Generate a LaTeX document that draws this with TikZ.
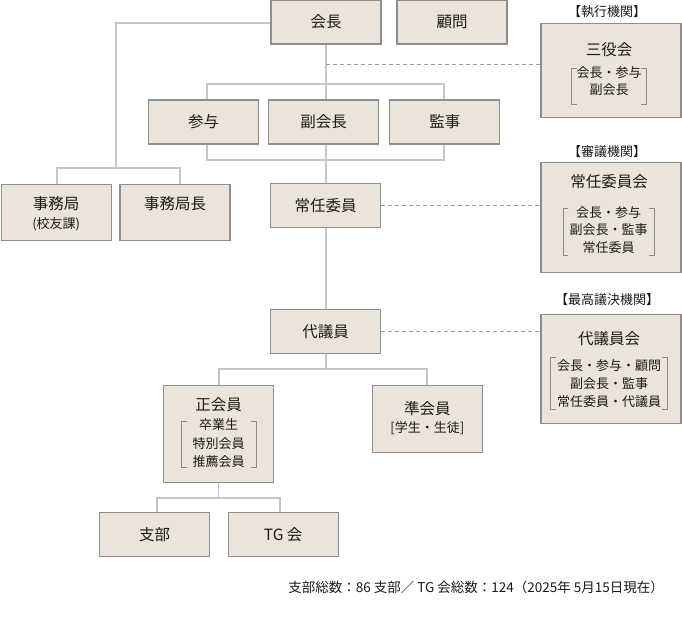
\documentclass[tikz,border=0pt]{standalone}
\usepackage{fontspec}
\setmainfont{Noto Sans CJK JP}
\definecolor{boxfill}{HTML}{EBE4DA}
\definecolor{boxline}{HTML}{8E8E8E}
\definecolor{connline}{HTML}{C6C6C6}
\definecolor{dashline}{HTML}{9E9E9E}
\definecolor{brkline}{HTML}{8A8A8A}
\definecolor{txt}{HTML}{1A1A1A}
\begin{document}
\begin{tikzpicture}[x=1pt,y=-1pt,
  box/.style={draw=boxline,fill=boxfill,line width=1.2pt,minimum width=110pt,minimum height=44pt,inner sep=0pt,font=\fontsize{15.5}{17}\selectfont,text=txt},
  big/.style={font=\fontsize{15.5}{17}\selectfont,text=txt,inner sep=0pt},
  small/.style={font=\fontsize{13}{15}\selectfont,text=txt,inner sep=0pt},
  conn/.style={draw=connline,line width=1.8pt},
  dotline/.style={draw=dashline,line width=0.8pt,dash pattern=on 4pt off 3pt},
  brk/.style={draw=brkline,line width=0.8pt}
]
\useasboundingbox (0,0) rectangle (682,617);

% ---- coordinates for connectors
\coordinate (ka) at (444,84.3);
\coordinate (kb) at (444,160);
\coordinate (lc) at (115.7,167.7);
\coordinate (jb) at (180.3,167.7);
\coordinate (db) at (427.3,369.3);
\coordinate (sb2) at (280,498.3);
\coordinate (d1) at (326,64.3);

% ---- connectors (drawn first)
\draw[conn] (326,44) -- (326,310);
\draw[conn] (206.7,100) |- (ka) -- (444,100);
\draw[conn] (206.7,144) |- (kb) -- (444,144);
\draw[conn] (271,22.7) -| (lc);
\draw[conn] (56.7,184.3) |- (jb) -- (180.3,184.3);
\draw[conn] (326,353) -- (326,369.3);
\draw[conn] (219,385.3) |- (db) -- (427.3,385.3);
\draw[conn] (218.5,482.7) -- (218.5,498.3);
\draw[conn] (156.7,512) |- (sb2) -- (280,512);

% ---- central boxes
\node[box] (kaicho) at (326,22) {会長};
\node[box] (komon) at (452,22) {顧問};
\node[box] (sanyo) at (203.7,122) {参与};
\node[box] (fuku) at (323.7,122) {副会長};
\node[box] (kanji) at (444.8,122) {監事};
\node[box,minimum height=56pt] (jimu) at (56.2,212.5) {};
\node[big] (jimuA) at (56.2,204) {事務局};
\node[small] (jimuB) at (56.2,224.5) {(校友課)};
\node[box,minimum height=56pt] (jimucho) at (175,212.5) {};
\node[big] (jimuchoA) at (175,204) {事務局長};
\node[box] (jonin) at (325.7,205.5) {常任委員};
\node[box] (daigi) at (325.5,331.2) {代議員};

\node[box,minimum height=97pt] (sei) at (218.5,434) {};
\node[big] (seiA) at (218.5,405) {正会員};
\node[small] (seiB) at (218.5,425) {卒業生};
\node[small] (seiC) at (218.5,443.3) {特別会員};
\node[small] (seiD) at (218.5,461.7) {推薦会員};
\draw[brk] (186.7,421.7) -- (181.7,421.7) -- (181.7,467.3) -- (186.7,467.3);
\draw[brk] (251,421.7) -- (256,421.7) -- (256,467.3) -- (251,467.3);

\node[box,minimum height=67pt] (jun) at (427.3,418.8) {};
\node[big] (junA) at (427.3,408.3) {準会員};
\node[small] (junB) at (427.3,427.7) {[学生・生徒]};

\node[box] (shibu) at (154.7,534.3) {支部};
\node[box] (tg) at (283.2,534.3) {TG 会};

% ---- right side boxes
\node[small] (lbl1) at (607,12) {【執行機関】};
\node[box,minimum width=140pt,minimum height=94pt] (sanyaku) at (611,70.3) {};
\node[big] (sanyakuA) at (609,49.3) {三役会};
\node[small] (sanyakuB) at (609,73) {会長・参与};
\node[small] (sanyakuC) at (609,90) {副会長};
\draw[brk] (576.7,68) -- (571.7,68) -- (571.7,104) -- (576.7,104);
\draw[brk] (641,68) -- (646,68) -- (646,104) -- (641,104);

\node[small] (lbl2) at (607,151.7) {【審議機関】};
\node[box,minimum width=140pt,minimum height=110pt] (joninkai) at (611,217.3) {};
\node[big] (joninkaiA) at (609,181.7) {常任委員会};
\node[small] (joninkaiB) at (608.7,213) {会長・参与};
\node[small] (joninkaiC) at (608.7,230) {副会長・監事};
\node[small] (joninkaiD) at (608.7,248) {常任委員};
\draw[brk] (568.3,208) -- (563.3,208) -- (563.3,255) -- (568.3,255);
\draw[brk] (649,208) -- (654,208) -- (654,255) -- (649,255);

\node[small] (lbl3) at (607,300) {【最高議決機関】};
\node[box,minimum width=140pt,minimum height=109pt] (daigikai) at (611,368.8) {};
\node[big] (daigikaiA) at (609,338.3) {代議員会};
\node[small] (daigikaiB) at (609,366) {会長・参与・顧問};
\node[small] (daigikaiC) at (609,384) {副会長・監事};
\node[small] (daigikaiD) at (609,402) {常任委員・代議員};
\draw[brk] (555.7,357.7) -- (550.7,357.7) -- (550.7,409) -- (555.7,409);
\draw[brk] (662.3,357.7) -- (667.3,357.7) -- (667.3,409) -- (662.3,409);

% ---- dashed links
\draw[dotline] (d1) -- (d1 -| sanyaku.west);
\draw[dotline] (jonin.east) -- (jonin.east -| joninkai.west);
\draw[dotline] (daigi.east) -- (daigi.east -| daigikai.west);

% ---- note
\node[font=\fontsize{13.5}{15}\selectfont,text=txt,inner sep=0pt,anchor=east] (note) at (664,587) {支部総数：86 支部／ TG 会総数：124（2025年 5月15日現在）};
\end{tikzpicture}
\end{document}
